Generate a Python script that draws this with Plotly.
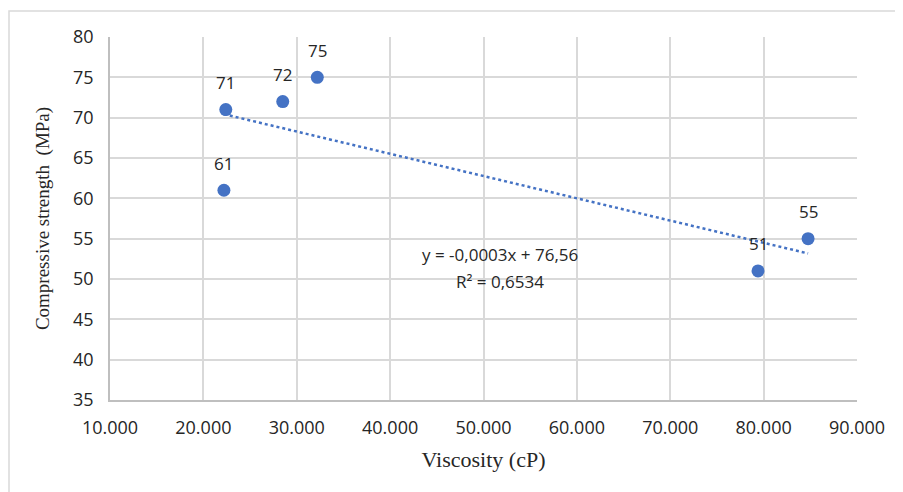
import numpy as np
import plotly.graph_objects as go

# Data
viscosity = [22400, 22200, 28500, 32200, 79400, 84760]
strength = [71, 61, 72, 75, 51, 55]
point_labels = ["71", "61", "72", "75", "51", "55"]

x_tick_vals = [10000, 20000, 30000, 40000, 50000, 60000, 70000, 80000, 90000]
x_tick_text = ["10.000", "20.000", "30.000", "40.000", "50.000", "60.000", "70.000", "80.000", "90.000"]
y_tick_vals = [35, 40, 45, 50, 55, 60, 65, 70, 75, 80]

equation_text = "y = -0,0003x + 76,56"
r2_text = "R² = 0,6534"

# Linear trendline fitted to the data
slope, intercept = np.polyfit(viscosity, strength, 1)
trend_x = [min(viscosity), max(viscosity)]
trend_y = [slope * v + intercept for v in trend_x]

blue = "#4472C4"
grid = "#d9d9d9"
txt = "#262626"
sans = "Open Sans"
serif = "Liberation Serif"

fig = go.Figure()
fig.add_trace(go.Scatter(x=trend_x, y=trend_y, mode="lines",
                         line=dict(color=blue, width=2.5, dash="dot"),
                         hoverinfo="skip", showlegend=False))
fig.add_trace(go.Scatter(x=viscosity, y=strength, mode="markers",
                         marker=dict(color=blue, size=13),
                         showlegend=False))

for xv, yv, lab in zip(viscosity, strength, point_labels):
    fig.add_annotation(x=xv, y=yv, text=lab, showarrow=False, yshift=27,
                       font=dict(family=sans, size=17, color=txt))

fig.add_annotation(x=51800, y=53.0, text=equation_text, showarrow=False,
                   font=dict(family=sans, size=17, color=txt))
fig.add_annotation(x=51800, y=49.7, text=r2_text, showarrow=False,
                   font=dict(family=sans, size=17, color=txt))

# page body has an 8px offset
OFF = 8
L, T = 110 - OFF, 37 - OFF
pw, ph = 747, 363
W, H = 903 - OFF, 492 - OFF
R = W - L - pw
B = H - T - ph
# frame: only the top and left edges are visible in the reference
fig.add_shape(type="rect", xref="paper", yref="paper",
              x0=(9 - OFF - L) / pw, x1=(930 - OFF - L) / pw,
              y0=(T + ph - (520 - OFF)) / ph, y1=1 + (T - (11 - OFF)) / ph,
              line=dict(color="#d9d9d9", width=1.5), layer="below")

fig.update_layout(
    width=W, height=H,
    margin=dict(l=L, r=R, t=T, b=B),
    paper_bgcolor="white", plot_bgcolor="white",
    xaxis=dict(range=[10000, 90000], tickvals=x_tick_vals, ticktext=x_tick_text,
               showgrid=True, gridcolor=grid, gridwidth=1.5,
               showline=True, linecolor="#bfbfbf", linewidth=1.5, mirror=False,
               zeroline=False, ticks="outside", ticklen=11, tickcolor="rgba(0,0,0,0)",
               tickfont=dict(family=sans, size=18, color=txt),
               title=dict(text="Viscosity (cP)", standoff=13,
                          font=dict(family=serif, size=22, color=txt))),
    yaxis=dict(range=[35, 80], tickvals=y_tick_vals,
               showgrid=True, gridcolor=grid, gridwidth=1.5,
               showline=True, linecolor="#bfbfbf", linewidth=1.5,
               zeroline=False, ticks="outside", ticklen=11, tickcolor="rgba(0,0,0,0)",
               tickfont=dict(family=sans, size=18, color=txt),
               title=dict(text="Compressive strength  (MPa)", standoff=18,
                          font=dict(family=serif, size=19, color=txt))),
)

fig.write_html("out.html")
